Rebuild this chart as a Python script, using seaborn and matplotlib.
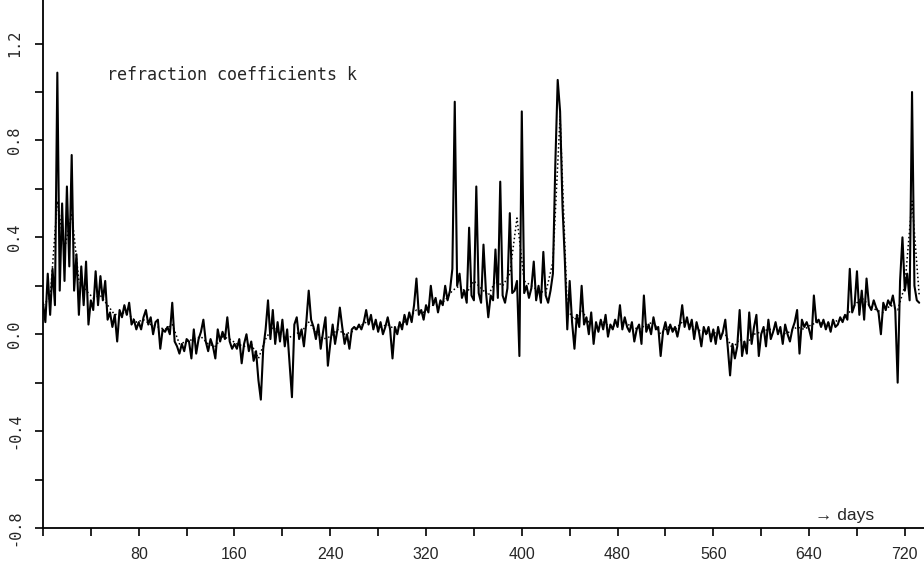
# ---------------------- Refraction coefficients k over two years ----------------------
import numpy as np
import matplotlib.pyplot as plt
import seaborn as sns

# ---------------------- Data ----------------------
# solid curve, one value every 2 days starting at day 0
k_daily = [
    0.13, 0.05, 0.25, 0.08, 0.27, 0.12, 1.08, 0.18, 0.54, 0.22,
    0.61, 0.28, 0.74, 0.18, 0.33, 0.08, 0.28, 0.12, 0.30, 0.04,
    0.14, 0.10, 0.26, 0.12, 0.24, 0.14, 0.22, 0.06, 0.09, 0.03,
    0.08, -0.03, 0.10, 0.07, 0.12, 0.08, 0.13, 0.04, 0.06, 0.02,
    0.05, 0.02, 0.07, 0.10, 0.04, 0.07, 0.00, 0.05, 0.06, -0.06,
    0.02, 0.01, 0.03, 0.00, 0.13, -0.03, -0.05, -0.08, -0.04, -0.07,
    -0.02, -0.03, -0.10, 0.02, -0.08, -0.02, 0.01, 0.06, -0.03, -0.07,
    -0.02, -0.05, -0.10, 0.02, -0.03, 0.01, -0.02, 0.07, -0.03, -0.06,
    -0.04, -0.06, -0.02, -0.12, -0.04, 0.00, -0.07, -0.03, -0.11, -0.07,
    -0.19, -0.27, -0.06, 0.02, 0.14, -0.02, 0.10, -0.04, 0.05, -0.03,
    0.06, -0.05, 0.02, -0.12, -0.26, 0.04, 0.07, -0.02, 0.02, -0.05,
    0.05, 0.18, 0.06, 0.03, -0.02, 0.04, -0.06, 0.01, 0.07, -0.13,
    -0.04, 0.04, -0.04, 0.02, 0.11, 0.03, -0.04, 0.00, -0.06, 0.02,
    0.03, 0.02, 0.04, 0.02, 0.05, 0.10, 0.04, 0.08, 0.02, 0.06,
    0.01, 0.05, 0.00, 0.03, 0.07, 0.02, -0.10, 0.03, 0.00, 0.05,
    0.02, 0.08, 0.04, 0.09, 0.05, 0.12, 0.23, 0.08, 0.10, 0.06,
    0.12, 0.09, 0.20, 0.12, 0.15, 0.09, 0.14, 0.12, 0.20, 0.14,
    0.18, 0.27, 0.96, 0.20, 0.25, 0.15, 0.18, 0.13, 0.44, 0.16,
    0.14, 0.61, 0.17, 0.13, 0.37, 0.18, 0.07, 0.16, 0.14, 0.35,
    0.15, 0.63, 0.16, 0.13, 0.19, 0.50, 0.17, 0.18, 0.22, -0.09,
    0.92, 0.17, 0.20, 0.15, 0.19, 0.30, 0.14, 0.20, 0.13, 0.34,
    0.16, 0.13, 0.18, 0.25, 0.70, 1.05, 0.92, 0.53, 0.30, 0.02,
    0.22, 0.05, -0.06, 0.08, 0.03, 0.20, 0.04, 0.07, 0.00, 0.09,
    -0.04, 0.05, 0.01, 0.06, 0.02, 0.08, -0.01, 0.04, 0.02, 0.06,
    0.03, 0.12, 0.02, 0.07, 0.03, 0.01, 0.05, -0.03, 0.02, 0.04,
    -0.04, 0.16, 0.01, 0.04, 0.00, 0.07, 0.02, 0.03, -0.09, 0.01,
    0.05, 0.00, 0.04, 0.01, 0.03, -0.01, 0.04, 0.12, 0.03, 0.07,
    0.02, 0.06, -0.02, 0.05, 0.01, -0.05, 0.03, 0.00, 0.03, -0.03,
    0.02, -0.04, 0.03, -0.02, 0.01, 0.06, -0.05, -0.17, -0.04, -0.10,
    -0.05, 0.10, -0.09, -0.03, -0.08, 0.09, -0.04, 0.03, 0.08, -0.09,
    0.00, 0.03, -0.05, 0.06, -0.02, 0.01, 0.05, 0.00, 0.03, -0.04,
    0.04, 0.00, -0.03, 0.02, 0.05, 0.10, -0.08, 0.06, 0.03, 0.05,
    0.02, -0.02, 0.16, 0.05, 0.06, 0.03, 0.06, 0.02, 0.05, 0.01,
    0.06, 0.03, 0.04, 0.07, 0.05, 0.08, 0.06, 0.27, 0.09, 0.12,
    0.26, 0.08, 0.18, 0.06, 0.23, 0.12, 0.10, 0.14, 0.11, 0.09,
    0.00, 0.13, 0.10, 0.14, 0.12, 0.16, 0.10, -0.20, 0.22, 0.40,
    0.18, 0.25, 0.14, 1.00, 0.20, 0.14, 0.13,
]
day_step = 2

# dotted curve (smoother), one value every 6 days
k_smooth = [
    0.12, 0.15, 0.55, 0.35, 0.50, 0.22, 0.18, 0.15, 0.16, 0.12, 0.08, 0.09, 0.08, 0.05, 0.06, 0.04, 0.03,
    0.02, 0.04, -0.04, -0.03, -0.02, -0.01, -0.04, -0.05, -0.01, -0.02, -0.04, -0.05, -0.04, -0.10, -0.02, 0.03, 0.00,
    -0.02, 0.00, 0.01, 0.05, 0.01, -0.02, -0.01, 0.02, 0.00, 0.01, 0.03, 0.05, 0.04, 0.03, 0.04, 0.02, 0.04,
    0.07, 0.10, 0.09, 0.12, 0.12, 0.14, 0.18, 0.20, 0.17, 0.22, 0.19, 0.16, 0.22, 0.20, 0.25, 0.48, 0.22,
    0.20, 0.18, 0.17, 0.30, 0.90, 0.10, 0.06, 0.10, 0.05, 0.04, 0.05, 0.03, 0.04, 0.05, 0.03, 0.02, 0.04,
    0.05, 0.00, 0.03, 0.02, 0.05, 0.04, 0.02, 0.01, 0.00, 0.01, 0.00, -0.06, -0.02, -0.04, 0.00, 0.01, 0.02,
    0.02, 0.00, 0.01, 0.03, 0.02, 0.04, 0.05, 0.04, 0.05, 0.06, 0.08, 0.12, 0.15, 0.12, 0.10, 0.09, 0.12,
    0.10, 0.20, 0.55, 0.16,
]
smooth_step = 6

x_ticks = [80, 160, 240, 320, 400, 480, 560, 640, 720]
x_tick_labels = ['80', '160', '240', '320', '400', '480', '560', '640', '720']
y_ticks = [-0.8, -0.4, 0.0, 0.4, 0.8, 1.2]
y_tick_labels = ['-0.8', '-0.4', '0.0', '0.4', '0.8', '1.2']

days = np.arange(len(k_daily)) * day_step
days_smooth = np.arange(len(k_smooth)) * smooth_step

# ---------------------- Plot ----------------------
sns.set_style("ticks")
plt.rcParams['font.family'] = ['Liberation Sans', 'DejaVu Sans']

fig = plt.figure(figsize=(9.24, 5.70), dpi=100)
ax = fig.add_axes([0.0465, 0.0737, 0.9535, 0.9263])

sns.lineplot(x=days_smooth, y=k_smooth, ax=ax, color='black', linewidth=1.1, linestyle=':')
sns.lineplot(x=days, y=k_daily, ax=ax, color='black', linewidth=1.5)

ax.set_xlim(0, 736)
ax.set_ylim(-0.8, 1.38)

ax.set_xticks(x_ticks)
ax.set_xticklabels(x_tick_labels, fontsize=11.5)
ax.set_xticks(np.arange(0, 740, 40), minor=True)
ax.set_yticks(y_ticks)
ax.set_yticklabels(y_tick_labels, rotation=90, va='center', fontsize=11, family='DejaVu Sans Mono')
ax.set_yticks(np.arange(-0.8, 1.3, 0.2), minor=True)

ax.tick_params(axis='both', which='both', length=6, width=1.2, color='black', direction='out')
ax.tick_params(axis='x', which='major', pad=8)
ax.tick_params(axis='y', which='major', pad=9)

sns.despine(ax=ax)
for side in ['left', 'bottom']:
    ax.spines[side].set_linewidth(1.3)
    ax.spines[side].set_color('black')

ax.set_xlabel('')
ax.set_ylabel('')
ax.text(53.5, 1.05, 'refraction coefficients k', fontsize=12, family='DejaVu Sans Mono', va='baseline')
ax.text(645, -0.767, '→ days', fontsize=12.5, va='baseline')

fig.savefig('out.png', dpi=100)
